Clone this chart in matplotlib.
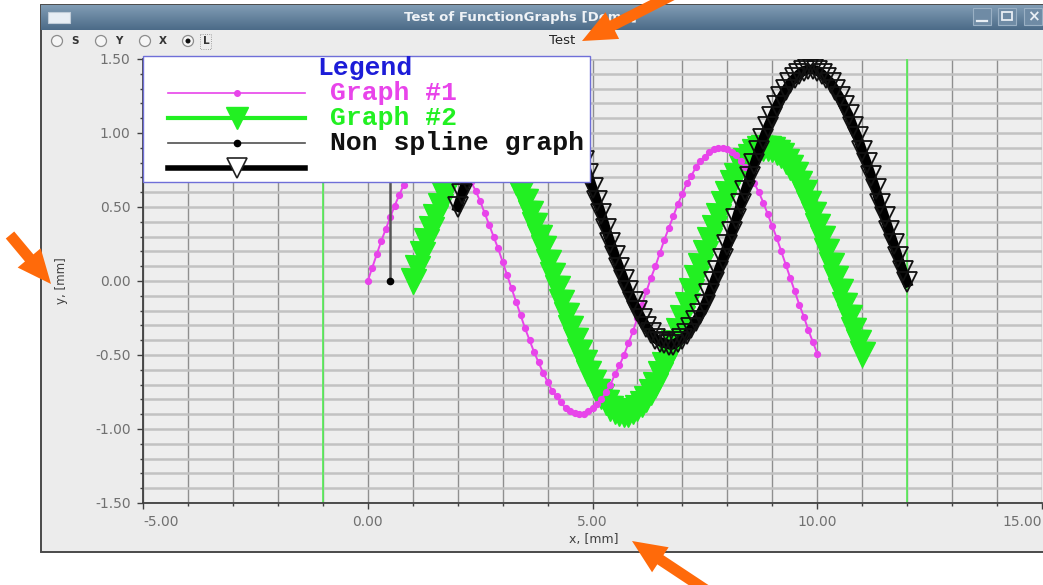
import matplotlib
matplotlib.use("Agg")
import matplotlib.pyplot as plt
import numpy as np
from matplotlib.patches import Rectangle, Circle, Polygon
from matplotlib.lines import Line2D
from matplotlib.ticker import MultipleLocator, FuncFormatter

# ---------------- data ----------------
graph1_x = np.round(np.arange(0.0, 10.05, 0.1), 1)
graph1_y = [0.00, 0.09, 0.18, 0.27, 0.35, 0.43, 0.51, 0.58, 0.65, 0.70,
            0.76, 0.80, 0.84, 0.87, 0.89, 0.90, 0.90, 0.89, 0.88, 0.85,
            0.82, 0.78, 0.73, 0.67, 0.61, 0.54, 0.46, 0.38, 0.30, 0.22,
            0.13, 0.04, -0.05, -0.14, -0.23, -0.32, -0.40, -0.48, -0.55, -0.62,
            -0.68, -0.74, -0.78, -0.82, -0.86, -0.88, -0.89, -0.90, -0.90, -0.88,
            -0.86, -0.83, -0.80, -0.75, -0.70, -0.63, -0.57, -0.50, -0.42, -0.34,
            -0.25, -0.16, -0.07, 0.02, 0.10, 0.19, 0.28, 0.36, 0.44, 0.52,
            0.59, 0.66, 0.71, 0.77, 0.81, 0.84, 0.87, 0.89, 0.90, 0.90,
            0.89, 0.87, 0.85, 0.81, 0.77, 0.72, 0.66, 0.60, 0.53, 0.45,
            0.37, 0.29, 0.20, 0.11, 0.02, -0.07, -0.16, -0.24, -0.33, -0.41,
            -0.49]

graph2_x = np.round(np.arange(1.0, 11.05, 0.1), 1)
graph2_y = [0.00, 0.09, 0.18, 0.27, 0.35, 0.43, 0.51, 0.58, 0.65, 0.70,
            0.76, 0.80, 0.84, 0.87, 0.89, 0.90, 0.90, 0.89, 0.88, 0.85,
            0.82, 0.78, 0.73, 0.67, 0.61, 0.54, 0.46, 0.38, 0.30, 0.22,
            0.13, 0.04, -0.05, -0.14, -0.23, -0.32, -0.40, -0.48, -0.55, -0.62,
            -0.68, -0.74, -0.78, -0.82, -0.86, -0.88, -0.89, -0.90, -0.90, -0.88,
            -0.86, -0.83, -0.80, -0.75, -0.70, -0.63, -0.57, -0.50, -0.42, -0.34,
            -0.25, -0.16, -0.07, 0.02, 0.10, 0.19, 0.28, 0.36, 0.44, 0.52,
            0.59, 0.66, 0.71, 0.77, 0.81, 0.84, 0.87, 0.89, 0.90, 0.90,
            0.89, 0.87, 0.85, 0.81, 0.77, 0.72, 0.66, 0.60, 0.53, 0.45,
            0.37, 0.29, 0.20, 0.11, 0.02, -0.07, -0.16, -0.24, -0.33, -0.41,
            -0.49]

graph3_x = np.round(np.arange(2.0, 12.05, 0.1), 1)
graph3_y = [0.50, 0.59, 0.68, 0.77, 0.86, 0.95, 1.03, 1.10, 1.17, 1.23,
            1.28, 1.33, 1.37, 1.40, 1.42, 1.43, 1.43, 1.42, 1.41, 1.38,
            1.35, 1.30, 1.25, 1.19, 1.13, 1.06, 0.98, 0.90, 0.81, 0.72,
            0.63, 0.54, 0.45, 0.35, 0.26, 0.17, 0.09, 0.01, -0.07, -0.14,
            -0.20, -0.26, -0.31, -0.35, -0.39, -0.41, -0.42, -0.43, -0.43, -0.41,
            -0.39, -0.36, -0.32, -0.27, -0.22, -0.16, -0.09, -0.01, 0.07, 0.15,
            0.24, 0.33, 0.42, 0.52, 0.61, 0.70, 0.79, 0.88, 0.96, 1.04,
            1.11, 1.18, 1.24, 1.29, 1.34, 1.37, 1.40, 1.42, 1.43, 1.43,
            1.42, 1.40, 1.37, 1.34, 1.29, 1.24, 1.18, 1.12, 1.04, 0.97,
            0.88, 0.80, 0.71, 0.62, 0.52, 0.43, 0.34, 0.25, 0.16, 0.07,
            -0.01]

nonspline_x = [0.5, 0.5]
nonspline_y = [0.0, 1.2]

marker_lines_x = [-1.0, 12.0]

x_ticks = [-5, 0, 5, 10, 15]
x_tick_labels = ["-5.00", "0.00", "5.00", "10.00", "15.00"]
legend_labels = ["Graph #1", "Graph #2", "Non spline graph", ""]

MAGENTA = "#e844ea"
GREEN = "#22f022"

# ---------------- figure ----------------
W, H = 1043, 585
fig = plt.figure(figsize=(W / 100, H / 100), dpi=100)
fig.patch.set_facecolor("white")

# window chrome (pixel coordinates)
bg = fig.add_axes([0, 0, 1, 1], zorder=0)
bg.axis("off")
bg.add_patch(Rectangle((40.5, 4.5), 1010, 547, facecolor="#ececec",
                       edgecolor="#4a4a4a", lw=1.4))
grad = np.linspace(0, 1, 40)[:, None, None]
top_c = np.array([0x80, 0x9c, 0xb4]) / 255
bot_c = np.array([0x4c, 0x6b, 0x88]) / 255
img = top_c * (1 - grad) + bot_c * grad
bg.imshow(img, extent=[41, 1043, 30, 5], aspect="auto", origin="upper",
          interpolation="bilinear", zorder=1)
bg.add_patch(Rectangle((48, 12), 22, 11, facecolor="#e8eef4", edgecolor="#c0ccd8",
                       lw=0.8, zorder=2))
bg.text(520, 17.5, "Test of FunctionGraphs [Demo]", ha="center", va="center",
        fontsize=9.5, fontweight="bold", color="#eef2f6", zorder=3)
for bx in (973, 998, 1024):
    bg.add_patch(Rectangle((bx, 8), 18, 17, facecolor="#6f8ba5", edgecolor="#9ab0c4",
                           lw=0.8, zorder=2))
bg.plot([977, 987], [21, 21], color="#e8eef4", lw=1.6, zorder=3)
bg.add_patch(Rectangle((1002, 12), 10, 8, facecolor="none", edgecolor="#e8eef4",
                       lw=1.3, zorder=3))
bg.text(1033, 16.5, "×", ha="center", va="center", fontsize=11,
        fontweight="bold", color="#e8eef4", zorder=3)

# toolbar row with radio buttons
for cx, lab, sel in ((57, "S", False), (101, "Y", False), (145, "X", False), (188, "L", True)):
    bg.add_patch(Circle((cx, 41), 5.5, facecolor="#f6f6f6", edgecolor="#8c8c8c",
                        lw=0.9, zorder=2))
    if sel:
        bg.add_patch(Circle((cx, 41), 2.5, facecolor="#111111", edgecolor="none", zorder=3))
    bg.text(cx + 18, 41, lab, ha="center", va="center", fontsize=7.5,
            fontweight="bold", color="#333333", zorder=3)
bg.add_patch(Rectangle((200, 34), 11, 15, facecolor="none", edgecolor="#888888",
                       lw=0.6, ls=":", zorder=3))
bg.text(562, 40, "Test", ha="center", va="center", fontsize=9.5, color="#222222")
bg.set_xlim(0, W)
bg.set_ylim(H, 0)

# ---------------- data axes ----------------
ax = fig.add_axes([143 / W, (H - 503) / H, 899 / W, 444 / H], zorder=5)
ax.set_facecolor("#eeeeee")
ax.set_xlim(-5, 15)
ax.set_ylim(-1.5, 1.5)

ax.set_xticks(x_ticks, labels=x_tick_labels)
ax.xaxis.set_minor_locator(MultipleLocator(1))
ax.yaxis.set_major_locator(MultipleLocator(0.5))
ax.yaxis.set_minor_locator(MultipleLocator(0.1))
ax.yaxis.set_major_formatter(FuncFormatter(lambda v, p: "%.2f" % (0.0 if abs(v) < 1e-9 else v)))

ax.tick_params(axis="both", which="major", direction="out", length=4, width=1,
               color="#404040", labelcolor="#707070", labelsize=10, pad=5)
ax.tick_params(axis="both", which="minor", direction="out", length=2.5, width=1,
               color="#404040")
for lbl, ha in zip(ax.get_xticklabels(), ["left", "center", "center", "center", "right"]):
    lbl.set_ha(ha)

ax.set_axisbelow(True)
ax.xaxis.grid(True, which="both", color="#8f8f8f", lw=1.0)
ax.yaxis.grid(True, which="both", color="#c2c2c2", lw=1.8)
for s in ("top", "right"):
    ax.spines[s].set_visible(False)
for s in ("left", "bottom"):
    ax.spines[s].set_color("#404040")
    ax.spines[s].set_linewidth(1.3)

ax.set_ylabel("y, [mm]", fontsize=8.5, color="#404040", va="center")
ax.yaxis.set_label_coords((62 - 143) / 899, 0.5)
ax.set_xlabel("x, [mm]", fontsize=9, color="#404040", va="center")
ax.xaxis.set_label_coords((594 - 143) / 899, (503 - 540) / 444)

for xv in marker_lines_x:
    ax.axvline(xv, color="#55ee55", lw=1.2, zorder=1.5)

ax.plot(graph2_x, graph2_y, color=GREEN, lw=4, marker="v", markersize=18,
        markerfacecolor=GREEN, markeredgecolor=GREEN, zorder=2)
ax.plot(graph1_x, graph1_y, color=MAGENTA, lw=1.4, marker="o", markersize=4.2,
        markeredgecolor=MAGENTA, zorder=3)
ax.plot(graph3_x, graph3_y, color="black", lw=7, marker="v", markersize=14,
        markerfacecolor="none", markeredgecolor="#111111", markeredgewidth=1.3, zorder=4)
ax.plot(nonspline_x, nonspline_y, color="#555555", lw=1.8, marker="o", markersize=4.5,
        markerfacecolor="black", markeredgecolor="black", zorder=5)

# ---------------- overlay: legend + annotation arrows ----------------
ov = fig.add_axes([0, 0, 1, 1], zorder=10)
ov.axis("off")
ov.set_xlim(0, W)
ov.set_ylim(H, 0)

ov.add_patch(Rectangle((143, 56), 447, 126, facecolor="white", edgecolor="#6f6fd8", lw=1.0))
LFONT = dict(family=["Liberation Mono", "DejaVu Sans Mono"], fontweight="bold", fontsize=19)
ov.text(365, 68, "Legend", ha="center", va="center", color="#1c1cd8", **LFONT)
rows = [93, 118, 143, 168]
styles = [
    dict(color=MAGENTA, lw=1.2, marker="o", markersize=4, mfc=MAGENTA, mec=MAGENTA),
    dict(color=GREEN, lw=3, marker="v", markersize=16, mfc=GREEN, mec=GREEN),
    dict(color="#505050", lw=1.2, marker="o", markersize=4.5, mfc="black", mec="black"),
    dict(color="black", lw=4, marker="v", markersize=15, mfc="white", mec="#222222", mew=1.2),
]
text_colors = [MAGENTA, GREEN, "#111111", "#111111"]
for yy, st, lab, tc in zip(rows, styles, legend_labels, text_colors):
    ov.add_line(Line2D([168, 305], [yy, yy], **{k: v for k, v in st.items()
                                              if k in ("color", "lw")}))
    ov.add_line(Line2D([237], [yy], linestyle="none",
                       **{k: v for k, v in st.items() if k not in ("color", "lw")}))
    if lab:
        ov.text(330, yy, lab, ha="left", va="center", color=tc, **LFONT)


def arrow_poly(tip, tail, head_len=34, head_half=15, shaft_half=5.5):
    t = np.array(tip, float)
    s = np.array(tail, float)
    d = s - t
    u = d / np.hypot(*d)
    n = np.array([-u[1], u[0]])
    b = t + u * head_len
    return [t, b + n * head_half, b + n * shaft_half, s + n * shaft_half,
            s - n * shaft_half, b - n * shaft_half, b - n * head_half]


ORANGE = "#ff6a0a"
for tip, tail in (((582, 41), (690, -14)), ((51, 284), (10, 235)), ((632, 541), (706, 590))):
    ov.add_patch(Polygon(arrow_poly(tip, tail), closed=True, facecolor=ORANGE,
                         edgecolor="none", clip_on=False))

fig.savefig("out.png", dpi=100)
